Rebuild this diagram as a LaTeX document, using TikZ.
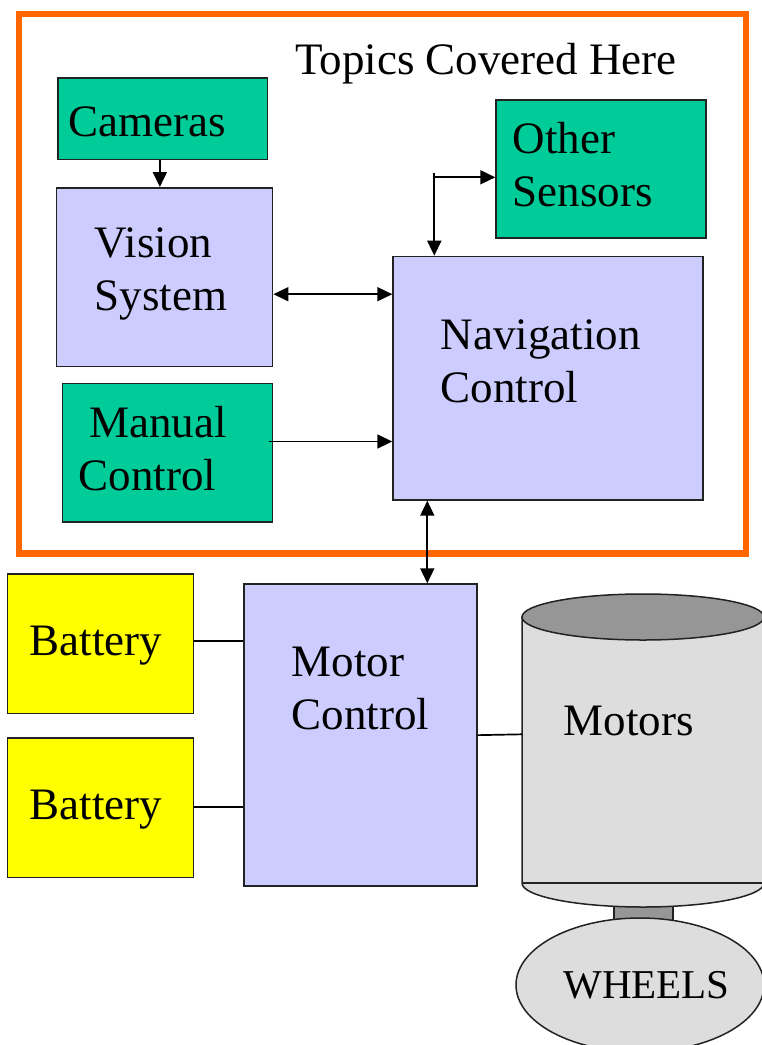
\documentclass[tikz,border=0pt]{standalone}
\usepackage{fontspec}
\setmainfont{Liberation Serif}
\usetikzlibrary{arrows.meta,calc}
\definecolor{grn}{HTML}{00CC99}
\definecolor{lav}{HTML}{CCCCFF}
\definecolor{yel}{HTML}{FFFF00}
\definecolor{org}{HTML}{FF6600}
\definecolor{cylbody}{HTML}{DDDDDD}
\definecolor{cyltop}{HTML}{969696}
\definecolor{edge}{HTML}{222222}
\tikzset{
  box/.style={draw=edge, line width=1.7pt, inner sep=0pt, anchor=north west},
  gbox/.style={box, fill=grn},
  lbox/.style={box, fill=lav},
  ybox/.style={box, fill=yel},
  frame/.style={draw=org, line width=6.7pt, inner sep=0pt, anchor=north west},
  txt/.style={inner sep=0pt, anchor=base west, align=left, font=\fontsize{45}{53}\selectfont},
  conn/.style={line width=1.7pt, draw=black},
  arr/.style={conn, -{Triangle[length=15pt,width=14pt]}},
  darr/.style={conn, {Triangle[length=15pt,width=14pt]}-{Triangle[length=15pt,width=14pt]}},
  cyl/.style={draw=edge, line width=1.5pt},
}
\begin{document}
\begin{tikzpicture}[x=1pt,y=-1pt]
\useasboundingbox (0,0) rectangle (762,1045);
% frame
\node[frame, minimum width=727pt, minimum height=539.3pt] (frm) at (15.7,10.7) {};
\node[txt] (topics) at (295,74) {Topics Covered Here};
% upper boxes
\node[gbox, minimum width=209.4pt, minimum height=81.7pt] (cam) at (57.3,77) {};
\node[lbox, minimum width=216pt, minimum height=178.7pt] (vis) at (55.7,187) {};
\node[gbox, minimum width=210pt, minimum height=138.3pt] (man) at (61.7,382.7) {};
\node[gbox, minimum width=209.7pt, minimum height=138pt] (oth) at (495.3,99) {};
\node[lbox, minimum width=310pt, minimum height=243.3pt] (nav) at (392.3,255.7) {};
\node[txt] (camt) at (68,136.7) {Cameras};
\node[txt] (vist) at (94.5,310) {Vision\\System};
\node[txt] (mant) at (78.3,490) {\hspace*{11pt}Manual\\Control};
\node[txt] (otht) at (512.7,206.7) {Other\\Sensors};
\node[txt] (navt) at (440.7,402.7) {Navigation\\Control};
% lower boxes
\node[ybox, minimum width=186pt, minimum height=139.7pt] (bat1) at (6.7,573) {};
\node[ybox, minimum width=186pt, minimum height=139.7pt] (bat2) at (6.7,737) {};
\node[lbox, minimum width=233pt, minimum height=302pt] (mot) at (243,583.3) {};
\node[txt] (bat1t) at (29.3,655.7) {Battery};
\node[txt] (bat2t) at (29.3,819.3) {Battery};
\node[txt] (mott) at (291.7,729.3) {Motor\\Control};
% motors cylinder, shaft, wheels
\filldraw[cyl, fill=cyltop] (614,903) rectangle (673,922);
\filldraw[cyl, fill=cylbody] (640,985) ellipse [x radius=124pt, y radius=67pt];
\filldraw[cyl, fill=cylbody] (522,617) -- (522,883)
  arc[start angle=180, end angle=360, x radius=121pt, y radius=24pt] -- (764,617) -- cycle;
\draw[cyl] (522,883) -- (764,883);
\filldraw[cyl, fill=cyltop] (643,617) ellipse [x radius=121pt, y radius=23pt];
\coordinate (cylL) at (522,734.3);
\node[txt] (motorst) at (563.3,735) {Motors};
\node[inner sep=0pt, anchor=base, font=\fontsize{41}{49}\selectfont] (wheels) at (646.5,998) {WHEELS};
% connectors
\draw[arr] ([xshift=-3pt]cam.south) -- ([xshift=-3pt]cam.south |- vis.north);
\draw[darr] ([yshift=-17pt]vis.east) -- ([yshift=-17pt]vis.east -| nav.west);
\draw[arr] ([shift={(-4pt,11.2pt)}]man.east) -- ([yshift=11.2pt]man.east -| nav.west);
\coordinate (j) at (434.3,177.3);
\draw[arr] (j) -- (j -| oth.west);
\draw[arr] ([yshift=4pt]j) -- (j |- nav.north);
\coordinate (nm) at (427.3,0);
\draw[darr] (nav.south -| nm) -- (mot.north -| nm);
\draw[conn] ([yshift=2.8pt]bat1.east) -- ([yshift=2.8pt]bat1.east -| mot.west);
\draw[conn] ([yshift=1pt]bat2.east) -- ([yshift=1pt]bat2.east -| mot.west);
\draw[conn] (mot.east) -- (cylL);
\end{tikzpicture}
\end{document}
